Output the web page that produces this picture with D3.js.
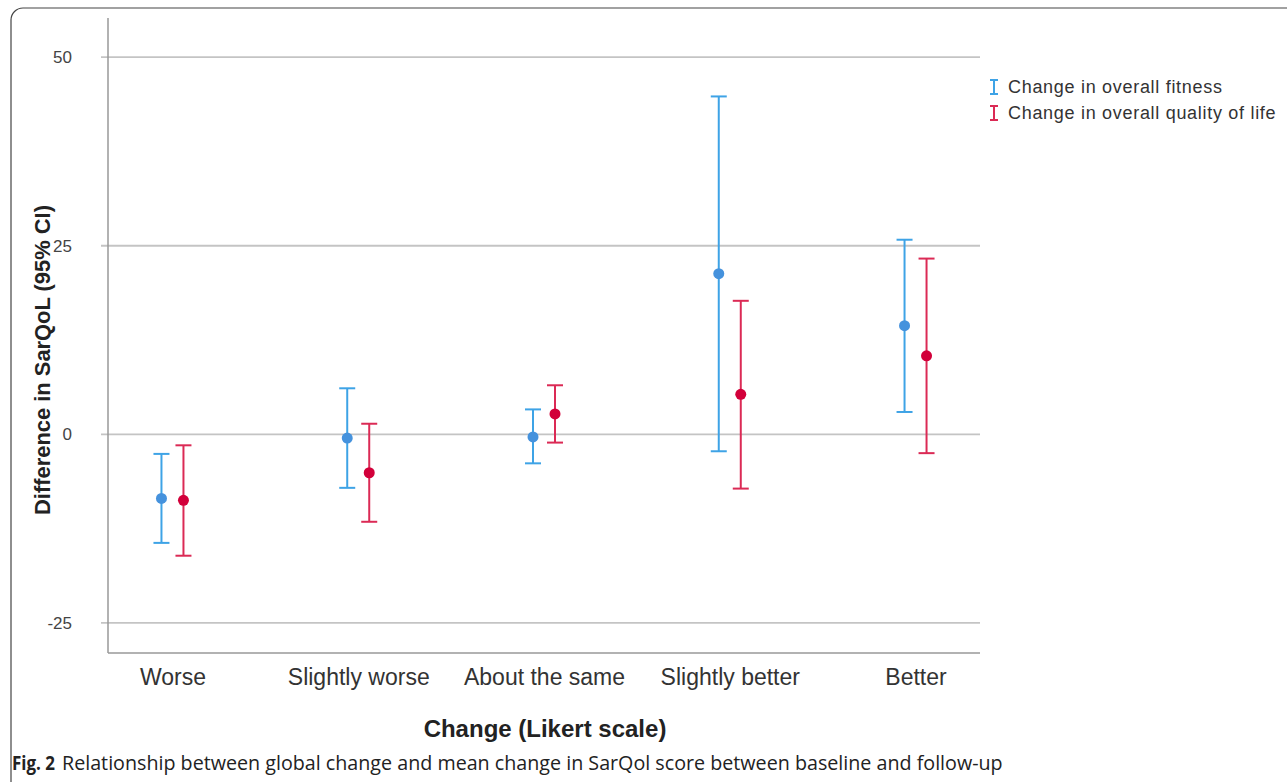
<!DOCTYPE html>
<html>
<head>
<meta charset="utf-8">
<script src="https://cdn.jsdelivr.net/npm/d3@7"></script>
<style>
  body { margin: 0; background: #fff; }
  svg { display: block; }
</style>
</head>
<body>
<div class="chart"></div>
<script>
// data
const categories = ["Worse", "Slightly worse", "About the same", "Slightly better", "Better"];
const seriesNames = ["Change in overall fitness", "Change in overall quality of life"];
const fitnessMean = [-8.5, -0.5, -0.35, 21.3, 14.4];
const fitnessLow  = [-14.4, -7.1, -3.85, -2.25, 2.96];
const fitnessHigh = [-2.6, 6.1, 3.3, 44.8, 25.8];
const qolMean = [-8.75, -5.1, 2.7, 5.3, 10.4];
const qolLow  = [-16.1, -11.6, -1.1, -7.2, -2.5];
const qolHigh = [-1.46, 1.4, 6.5, 17.7, 23.3];
const yTicks = [-25, 0, 25, 50];

const width = 1287, height = 782;
const plotLeft = 108, plotRight = 980, plotTop = 18, plotBottom = 653;

let svg = d3.select("div.chart").append("svg")
  .attr("width", width)
  .attr("height", height);

// frame round the figure
svg.append("rect")
  .attr("x", 11).attr("y", 8)
  .attr("width", 1300).attr("height", 800)
  .attr("rx", 12)
  .attr("fill", "none")
  .attr("stroke", "#444")
  .attr("stroke-width", 1.2);

let x = d3.scalePoint().domain(categories).range([plotLeft, plotRight]).padding(0.347);
let y = d3.scaleLinear().domain([-29, 55.2]).range([plotBottom, plotTop]);

// grid lines
svg.append("g")
  .selectAll("line")
  .data(yTicks)
  .enter()
  .append("line")
  .attr("x1", plotLeft - 7).attr("x2", plotRight)
  .attr("y1", d => y(d)).attr("y2", d => y(d))
  .attr("stroke", "#c4c4c4")
  .attr("stroke-width", 1.8);

// y axis
let yAxis = svg.append("g")
  .attr("transform", "translate(" + plotLeft + ",0)")
  .call(d3.axisLeft(y).tickValues(yTicks).tickFormat(d => String(d)).tickSize(0).tickPadding(36));
yAxis.select(".domain").remove();
yAxis.selectAll("text")
  .attr("font-family", "Liberation Sans, Arial, sans-serif")
  .attr("font-size", 17)
  .attr("fill", "#444");

svg.append("line")
  .attr("x1", plotLeft).attr("x2", plotLeft)
  .attr("y1", plotTop).attr("y2", plotBottom)
  .attr("stroke", "#999").attr("stroke-width", 1.5);
svg.append("line")
  .attr("x1", plotLeft).attr("x2", plotRight)
  .attr("y1", plotBottom).attr("y2", plotBottom)
  .attr("stroke", "#999").attr("stroke-width", 1.5);

// x axis labels
let xAxis = svg.append("g")
  .attr("transform", "translate(0," + plotBottom + ")")
  .call(d3.axisBottom(x).tickSize(0).tickPadding(16));
xAxis.select(".domain").remove();
xAxis.selectAll("text")
  .attr("font-family", "Liberation Sans, Arial, sans-serif")
  .attr("font-size", 23)
  .attr("fill", "#333");

// axis titles
svg.append("text")
  .attr("x", 545)
  .attr("y", 737)
  .attr("text-anchor", "middle")
  .attr("font-family", "Liberation Sans, Arial, sans-serif")
  .attr("font-weight", "bold")
  .attr("font-size", 24)
  .attr("fill", "#222")
  .text("Change (Likert scale)");

svg.append("text")
  .attr("transform", "translate(50,360)rotate(-90)")
  .attr("text-anchor", "middle")
  .attr("font-family", "Liberation Sans, Arial, sans-serif")
  .attr("font-weight", "bold")
  .attr("font-size", 22)
  .attr("textLength", 310)
  .attr("lengthAdjust", "spacingAndGlyphs")
  .attr("fill", "#222")
  .text("Difference in SarQoL (95% CI)");

// error bars
let series = [
  {name: seriesNames[0], mean: fitnessMean, low: fitnessLow, high: fitnessHigh, offset: -11, line: "#3ea3e6", dot: "#4592dd"},
  {name: seriesNames[1], mean: qolMean, low: qolLow, high: qolHigh, offset: 11, line: "#db2a55", dot: "#d2003a"}
];
let capW = 8;

series.forEach(s => {
  let rows = categories.map((c, i) => ({c: c, mean: s.mean[i], low: s.low[i], high: s.high[i]}));
  let g = svg.append("g");
  g.selectAll("line.bar").data(rows).enter().append("line")
    .attr("class", "bar")
    .attr("x1", d => x(d.c) + s.offset).attr("x2", d => x(d.c) + s.offset)
    .attr("y1", d => y(d.low)).attr("y2", d => y(d.high))
    .attr("stroke", s.line).attr("stroke-width", 2);
  ["low", "high"].forEach(k => {
    g.selectAll("line.cap-" + k).data(rows).enter().append("line")
      .attr("class", "cap-" + k)
      .attr("x1", d => x(d.c) + s.offset - capW).attr("x2", d => x(d.c) + s.offset + capW)
      .attr("y1", d => y(d[k])).attr("y2", d => y(d[k]))
      .attr("stroke", s.line).attr("stroke-width", 2);
  });
  g.selectAll("circle").data(rows).enter().append("circle")
    .attr("cx", d => x(d.c) + s.offset)
    .attr("cy", d => y(d.mean))
    .attr("r", 5.5)
    .attr("fill", s.dot);
});

// legend
let legend = svg.append("g").attr("transform", "translate(994,87)");
series.forEach((s, i) => {
  let row = legend.append("g").attr("transform", "translate(0," + i * 26 + ")");
  row.append("line").attr("x1", 0).attr("x2", 0).attr("y1", -7).attr("y2", 7)
    .attr("stroke", s.line).attr("stroke-width", 2);
  row.append("line").attr("x1", -4).attr("x2", 4).attr("y1", -7).attr("y2", -7)
    .attr("stroke", s.line).attr("stroke-width", 2);
  row.append("line").attr("x1", -4).attr("x2", 4).attr("y1", 7).attr("y2", 7)
    .attr("stroke", s.line).attr("stroke-width", 2);
  row.append("text")
    .attr("x", 14).attr("y", 6)
    .attr("font-family", "Liberation Sans, Arial, sans-serif")
    .attr("font-size", 18)
    .attr("letter-spacing", 0.7)
    .attr("fill", "#333")
    .text(s.name);
});

// caption
let caption = svg.append("text")
  .attr("x", 12).attr("y", 770)
  .attr("font-family", "Open Sans, sans-serif")
  .attr("font-size", 19.7)
  .attr("fill", "#222");
caption.append("tspan").attr("font-weight", "bold")
  .attr("textLength", 43).attr("lengthAdjust", "spacingAndGlyphs")
  .text("Fig. 2");
caption.append("tspan").attr("x", 62)
  .text("Relationship between global change and mean change in SarQol score between baseline and follow-up");
</script>
</body>
</html>
